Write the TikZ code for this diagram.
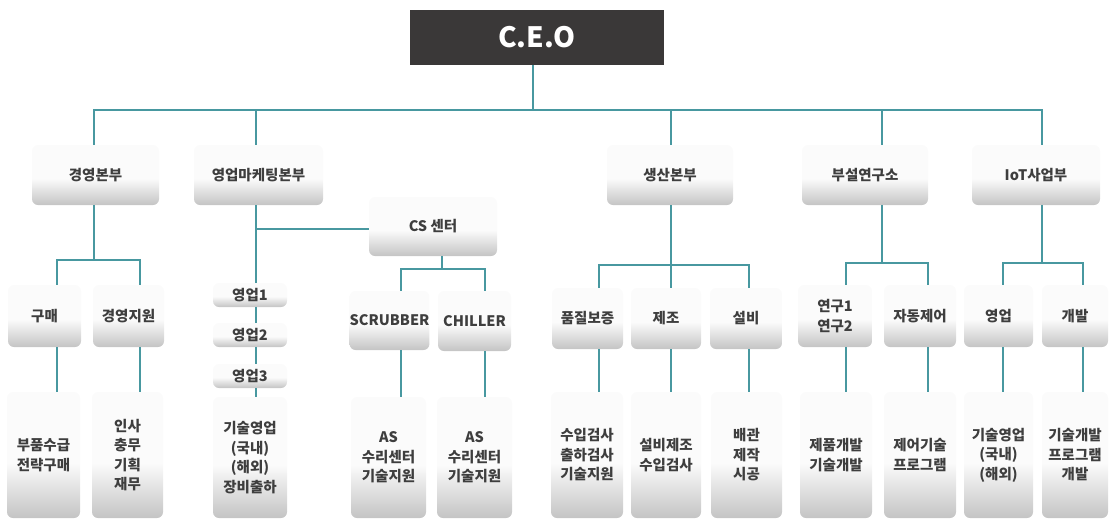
\documentclass[tikz,border=0pt]{standalone}
\usepackage{fontspec}
\setmainfont{Noto Sans CJK KR}
\definecolor{connteal}{RGB}{72,152,160}
\definecolor{ceofill}{RGB}{58,56,56}
\definecolor{txtgray}{RGB}{62,62,62}
\definecolor{boxlow}{RGB}{196,196,196}
\definecolor{boxhigh}{RGB}{251,251,251}
% light at the top, grey towards the bottom edge
\pgfdeclareverticalshading{boxshade}{100bp}{color(0bp)=(boxlow); color(25bp)=(boxlow); color(47bp)=(boxhigh); color(100bp)=(boxhigh)}
\tikzset{
  conn/.style={draw=connteal, line width=2.8pt},
  orgbox/.style={rounded corners=6pt, shading=boxshade, inner sep=0pt, align=center,
    text=txtgray, font=\bfseries\fontsize{14.5}{19.5}\selectfont},
  ceobox/.style={fill=ceofill, inner sep=0pt, text=white,
    font=\bfseries\fontsize{28}{30}\selectfont},
}
% vertical connector at a given x between two anchors
\newcommand\vdrop[3]{\draw[conn] (#1 -| #3,0) -- (#2 -| #3,0);}
\begin{document}
\begin{tikzpicture}[x=1pt, y=-1pt]
\useasboundingbox (0,0) rectangle (1111,520);

% top
\node[ceobox, minimum width=254pt, minimum height=55pt] (ceo) at (537,37.5) {C.E.O};

% divisions
\node[orgbox, minimum width=127pt, minimum height=60pt] (gy)  at (95.5,175) {경영본부};
\node[orgbox, minimum width=129pt, minimum height=60pt] (ym)  at (258.5,175) {영업마케팅본부};
\node[orgbox, minimum width=126pt, minimum height=60pt] (ss)  at (670,175) {생산본부};
\node[orgbox, minimum width=126pt, minimum height=60pt] (rd)  at (865,175) {부설연구소};
\node[orgbox, minimum width=128pt, minimum height=60pt] (iot) at (1036,175) {IoT사업부};

\node[orgbox, minimum width=128pt, minimum height=59pt] (cs) at (433,226.5) {CS 센터};

% teams
\node[orgbox, minimum width=73pt, minimum height=62pt] (gm) at (44.5,316) {구매};
\node[orgbox, minimum width=71pt, minimum height=62pt] (gj) at (128.5,316) {경영지원};
\node[orgbox, minimum width=74pt, minimum height=24pt] (s1) at (250,295) {영업1};
\node[orgbox, minimum width=74pt, minimum height=24pt] (s2) at (250,335) {영업2};
\node[orgbox, minimum width=74pt, minimum height=24pt] (s3) at (250,376) {영업3};
\node[orgbox, minimum width=73pt, minimum height=59pt] (sc) at (389.5,320.5) {SCRUBBER};
\node[orgbox, minimum width=73pt, minimum height=60pt] (ch) at (474.5,321) {CHILLER};
\node[orgbox, minimum width=71pt, minimum height=61pt] (qa) at (587.5,318.5) {품질보증};
\node[orgbox, minimum width=70pt, minimum height=61pt] (mf) at (666,318.5) {제조};
\node[orgbox, minimum width=72pt, minimum height=61pt] (fc) at (746,318.5) {설비};
\node[orgbox, minimum width=74pt, minimum height=62pt] (r1) at (835,316) {연구1\\연구2};
\node[orgbox, minimum width=72pt, minimum height=62pt] (ac) at (920,316) {자동제어};
\node[orgbox, minimum width=69pt, minimum height=62pt] (is) at (998.5,316) {영업};
\node[orgbox, minimum width=66pt, minimum height=62pt] (dv) at (1075,316) {개발};

% duties
\node[orgbox, minimum width=73pt, minimum height=126pt] (b1)  at (43.5,455) {부품수급\\전략구매};
\node[orgbox, minimum width=71pt, minimum height=126pt] (b2)  at (127.5,455) {인사\\충무\\기획\\재무};
\node[orgbox, minimum width=74pt, minimum height=121pt] (b3)  at (250,457.5) {기술영업\\(국내)\\(해외)\\장비출하};
\node[orgbox, minimum width=75pt, minimum height=121pt] (b4)  at (388.5,457.5) {AS\\수리센터\\기술지원};
\node[orgbox, minimum width=75pt, minimum height=121pt] (b5)  at (474.5,457.5) {AS\\수리센터\\기술지원};
\node[orgbox, minimum width=72pt, minimum height=126pt] (b6)  at (587,455) {수입검사\\출하검사\\기술지원};
\node[orgbox, minimum width=70pt, minimum height=126pt] (b7)  at (666,455) {설비제조\\수입검사};
\node[orgbox, minimum width=71pt, minimum height=126pt] (b8)  at (746.5,455) {배관\\제작\\시공};
\node[orgbox, minimum width=72pt, minimum height=126pt] (b9)  at (836,455) {제품개발\\기술개발};
\node[orgbox, minimum width=72pt, minimum height=126pt] (b10) at (920,455) {제어기술\\프로그램};
\node[orgbox, minimum width=69pt, minimum height=126pt] (b11) at (998.5,455) {기술영업\\(국내)\\(해외)};
\node[orgbox, minimum width=66pt, minimum height=126pt] (b12) at (1075,455) {기술개발\\프로그램\\개발};

% junctions
\coordinate (jc)   at (533,110);
\coordinate (jg)   at (94,260);
\coordinate (jcs)  at (442,269);
\coordinate (jss)  at (671,265);
\coordinate (jrd)  at (882,263);
\coordinate (jiot) at (1042,263);

% CEO to divisions
\vdrop{ceo.south}{jc}{533}
\draw[conn] (gy.north -| 94,0) |- (jc) -| (iot.north -| 1042,0);
\vdrop{jc}{ym.north}{256}
\vdrop{jc}{ss.north}{671}
\vdrop{jc}{rd.north}{882}

% 경영본부
\vdrop{gy.south}{jg}{94}
\draw[conn] (gm.north -| 57,0) |- (jg) -| (gj.north -| 140,0);
\vdrop{gm.south}{b1.north}{57}
\vdrop{gj.south}{b2.north}{140}

% 영업마케팅본부
\vdrop{ym.south}{s1.north}{256}
\draw[conn] (cs.west |- 0,229) -- (256,229);
\vdrop{s1.south}{s2.north}{256}
\vdrop{s2.south}{s3.north}{256}
\vdrop{s3.south}{b3.north}{256}

% CS 센터
\vdrop{cs.south}{jcs}{442}
\draw[conn] (sc.north -| 401,0) |- (jcs) -| (ch.north -| 485,0);
\vdrop{sc.south}{b4.north}{401}
\vdrop{ch.south}{b5.north}{485}

% 생산본부
\vdrop{ss.south}{jss}{671}
\draw[conn] (qa.north -| 599,0) |- (jss) -| (fc.north -| 749,0);
\vdrop{jss}{mf.north}{671}
\vdrop{qa.south}{b6.north}{599}
\vdrop{mf.south}{b7.north}{671}
\vdrop{fc.south}{b8.north}{749}

% 부설연구소
\vdrop{rd.south}{jrd}{882}
\draw[conn] (r1.north -| 846,0) |- (jrd) -| (ac.north -| 928,0);
\vdrop{r1.south}{b9.north}{846}
\vdrop{ac.south}{b10.north}{928}

% IoT사업부
\vdrop{iot.south}{jiot}{1042}
\draw[conn] (is.north -| 1003,0) |- (jiot) -| (dv.north -| 1083,0);
\vdrop{is.south}{b11.north}{1003}
\vdrop{dv.south}{b12.north}{1083}
\end{tikzpicture}
\end{document}
